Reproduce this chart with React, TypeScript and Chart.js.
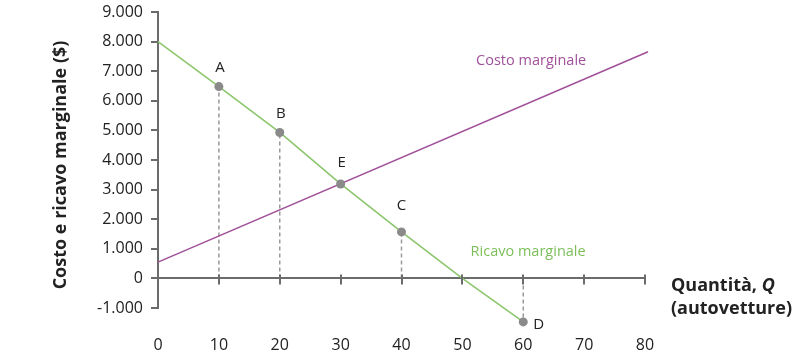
import React, { useEffect, useRef } from 'react';
import { Chart, registerables } from 'chart.js';

Chart.register(...registerables);

// ---- data ----
const quantityTicks = [0, 10, 20, 30, 40, 50, 60, 70, 80];
const yTickValues = [-1000, 0, 1000, 2000, 3000, 4000, 5000, 6000, 7000, 8000, 9000];
const yTickLabels = ['-1.000', '0', '1.000', '2.000', '3.000', '4.000', '5.000', '6.000', '7.000', '8.000', '9.000'];

const mcQ = [0, 80.5];
const mcValues = [550, 7660];
const mrQ = [0, 10, 20, 30, 40, 50, 60];
const mrValues = [8000, 6480, 4930, 3190, 1570, 0, -1470];

const pointNames = ['A', 'B', 'E', 'C', 'D'];
const pointQ = [10, 20, 30, 40, 60];
const pointValues = [6480, 4930, 3190, 1570, -1470];

const dropQ = [10, 20, 40, 60];
const dropValues = [6480, 4930, 1570, -1470];

const mcLabel = 'Costo marginale';
const mcLabelAt = [61.3, 7350];
const mrLabel = 'Ricavo marginale';
const mrLabelAt = [60.8, 900];

const yTitle = 'Costo e ricavo marginale ($)';
const xTitleLine1 = 'Quantità, ';
const xTitleVar = 'Q';
const xTitleLine2 = '(autovetture)';

// ---- style ----
const FONT = "'Open Sans', sans-serif";
const GREEN = '#8cc66d';
const GREEN_TEXT = '#7cbf5a';
const PURPLE = '#a0519a';
const GRAY = '#8a8a8a';
const AXIS = '#6b6b6b';
const TEXT = '#222222';
const POINT_R = 4.5;
// label offsets in px: [dx, dy, align]
const pointLabelOffsets: Record<string, [number, number, CanvasTextAlign]> = {
  A: [1, -19, 'center'],
  B: [1, -19, 'center'],
  E: [1, -21, 'center'],
  C: [0, -26, 'center'],
  D: [10, 3, 'left'],
};

const annotationPlugin = {
  id: 'annotations',
  afterDatasetsDraw(chart: any) {
    const { ctx, scales, chartArea } = chart;
    const x = scales.x;
    const y = scales.y;
    const y0 = y.getPixelForValue(0);
    ctx.save();
    // x tick marks on zero line
    ctx.strokeStyle = AXIS;
    ctx.lineWidth = 2;
    quantityTicks.forEach((q) => {
      if (q === 0) return;
      const px = Math.round(x.getPixelForValue(q));
      ctx.beginPath();
      ctx.moveTo(px, y0 - 4);
      ctx.lineTo(px, y0 + 6);
      ctx.stroke();
    });
    // points outside the chart area (not drawn by Chart.js)
    const meta = chart.getDatasetMeta(0);
    ctx.fillStyle = GRAY;
    meta.data.forEach((el: any) => {
      if (el.y > chartArea.bottom || el.y < chartArea.top) {
        ctx.beginPath();
        ctx.arc(el.x, el.y, POINT_R, 0, Math.PI * 2);
        ctx.fill();
      }
    });
    // point labels
    ctx.font = `15px ${FONT}`;
    ctx.fillStyle = TEXT;
    ctx.textBaseline = 'middle';
    meta.data.forEach((el: any, i: number) => {
      const name = pointNames[i];
      const off = pointLabelOffsets[name];
      ctx.textAlign = off[2];
      ctx.fillText(name, el.x + off[0], el.y + off[1]);
    });
    // line labels
    ctx.textAlign = 'center';
    ctx.font = `14.5px ${FONT}`;
    ctx.fillStyle = PURPLE;
    ctx.fillText(mcLabel, x.getPixelForValue(mcLabelAt[0]), y.getPixelForValue(mcLabelAt[1]));
    ctx.fillStyle = GREEN_TEXT;
    ctx.fillText(mrLabel, x.getPixelForValue(mrLabelAt[0]), y.getPixelForValue(mrLabelAt[1]));
    // axis titles
    ctx.fillStyle = TEXT;
    ctx.font = `bold 18px ${FONT}`;
    ctx.save();
    ctx.translate(61, 165);
    ctx.rotate(-Math.PI / 2);
    ctx.textAlign = 'center';
    ctx.textBaseline = 'middle';
    ctx.fillText(yTitle, 0, 0);
    ctx.restore();
    ctx.textAlign = 'left';
    ctx.textBaseline = 'alphabetic';
    ctx.fillText(xTitleLine1, 671, 291);
    const w1 = ctx.measureText(xTitleLine1).width;
    ctx.font = `italic bold 18px ${FONT}`;
    ctx.fillText(xTitleVar, 671 + w1, 291);
    ctx.font = `bold 18px ${FONT}`;
    ctx.fillText(xTitleLine2, 671, 314);
    ctx.restore();
  },
};

export default function App() {
  const ref = useRef<HTMLCanvasElement>(null);
  useEffect(() => {
    if (!ref.current) return;
    const toXY = (xs: number[], ys: number[]) => xs.map((v, i) => ({ x: v, y: ys[i] }));
    const drops = dropQ.map((q, i) => ({
      data: [{ x: q, y: 0 }, { x: q, y: dropValues[i] }],
      borderColor: '#9a9a9a',
      borderWidth: 1.5,
      borderDash: [4, 3],
      pointRadius: 0,
      clip: false as any,
      order: 5,
    }));
    const chart = new Chart(ref.current, {
      type: 'line',
      data: {
        datasets: [
          {
            data: toXY(pointQ, pointValues),
            showLine: false,
            pointRadius: POINT_R,
            pointBackgroundColor: GRAY,
            pointBorderWidth: 0,
            clip: false as any,
            order: 0,
          },
          {
            data: toXY(mcQ, mcValues),
            borderColor: PURPLE,
            borderWidth: 1.6,
            pointRadius: 0,
            clip: false as any,
            order: 2,
          },
          {
            data: toXY(mrQ, mrValues),
            borderColor: GREEN,
            borderWidth: 1.6,
            pointRadius: 0,
            clip: false as any,
            order: 1,
          },
          ...drops,
        ] as any,
      },
      options: {
        animation: false,
        responsive: false,
        events: [],
        layout: { padding: { top: 12, right: 165, left: 0, bottom: 0 } },
        plugins: { legend: { display: false }, tooltip: { enabled: false } },
        scales: {
          x: {
            type: 'linear',
            min: 0,
            max: 80,
            afterFit: (s: any) => {
              s.height = 53;
              s.paddingLeft = 0;
              s.paddingRight = 0;
            },
            afterBuildTicks: (s: any) => { s.ticks = quantityTicks.map((v) => ({ value: v })); },
            grid: { display: false, drawTicks: false },
            border: { display: false },
            ticks: {
              padding: 28,
              color: TEXT,
              font: { size: 16, family: FONT },
              maxRotation: 0,
              autoSkip: false,
            },
          },
          y: {
            type: 'linear',
            min: -1000,
            max: 9000,
            afterFit: (s: any) => {
              s.width = 158;
              s.paddingTop = 0;
              s.paddingBottom = 0;
            },
            afterBuildTicks: (s: any) => { s.ticks = yTickValues.map((v) => ({ value: v })); },
            grid: {
              color: (c: any) => (c.tick && c.tick.value === 0 ? AXIS : 'rgba(0,0,0,0)'),
              lineWidth: 2,
              tickColor: AXIS,
              tickLength: 7,
            },
            border: { display: true, color: AXIS, width: 2 },
            ticks: {
              padding: 8,
              color: TEXT,
              font: { size: 16, family: FONT },
              autoSkip: false,
              callback: (v: any) => {
                const i = yTickValues.indexOf(Number(v));
                return i >= 0 ? yTickLabels[i] : '';
              },
            },
          },
        },
      },
      plugins: [annotationPlugin],
    });
    return () => chart.destroy();
  }, []);
  return (
    <div style={{ position: 'fixed', left: 0, top: 0, width: 810, height: 361, background: '#fff' }}>
      <canvas ref={ref} width={810} height={361} style={{ width: 810, height: 361, display: 'block' }} />
    </div>
  );
}
